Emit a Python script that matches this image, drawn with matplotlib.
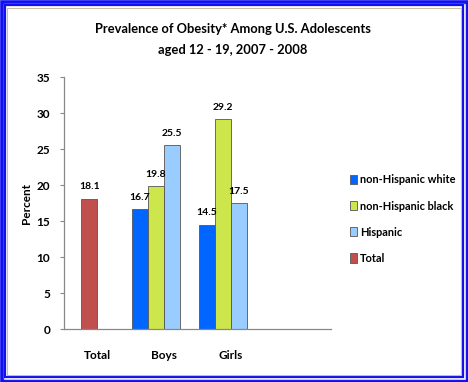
import numpy as np
import matplotlib.pyplot as plt
from matplotlib.patches import Rectangle

# Data
categories = ['Total', 'Boys', 'Girls']
white = [0, 16.7, 14.5]
black = [0, 19.8, 29.2]
hispanic = [0, 25.5, 17.5]
total = [18.1, 0, 0]
series_names = ['non-Hispanic white', 'non-Hispanic black', 'Hispanic', 'Total']
colors = ['#0066FF', '#CCE64C', '#99CCFF', '#C0504D']

plt.rcParams['font.family'] = ['Lato', 'DejaVu Sans']

W, H = 468, 382
fig = plt.figure(figsize=(W / 100, H / 100), dpi=100)

# Blue frame around the figure
def frame(x0, y0, x1, y1, color, lw):
    fig.patches.append(Rectangle((x0 / W, 1 - y1 / H), (x1 - x0) / W, (y1 - y0) / H,
                                 transform=fig.transFigure, fill=False,
                                 edgecolor=color, linewidth=lw, zorder=10))

frame(1.5, 1.5, W - 1.5, H - 1.5, '#1010F0', 2.6)
frame(3.5, 3.5, W - 3.5, H - 3.5, '#C8C8FF', 0.8)
frame(5, 5, W - 5, H - 5, '#1010F0', 1.6)
frame(7.5, 7.5, W - 7.5, H - 7.5, '#C8C0A0', 0.8)

# Axes placement in pixels: x 64..331, y 77..329
ax = fig.add_axes([64 / W, 1 - 329 / H, (331 - 64) / W, (329 - 77) / H])

bw = 0.24
data = [white, black, hispanic]
offsets = [-0.36, -0.12, 0.12]
for vals, off, c, name in zip(data, offsets, colors[:3], series_names[:3]):
    xs = [i + off for i in range(1, 3)]
    vs = vals[1:]
    ax.bar(xs, vs, width=bw, color=c, edgecolor='#555555', linewidth=0.6, label=name)
    for xi, v in zip(xs, vs):
        ax.text(xi, v + 1.0, f'{v:.1f}', ha='center', va='bottom', fontsize=7.5, fontweight='bold')
ax.bar([-0.12], total[:1], width=bw, color=colors[3], edgecolor='#555555', linewidth=0.6,
       label=series_names[3])
ax.text(-0.12, total[0] + 1.0, f'{total[0]:.1f}', ha='center', va='bottom', fontsize=7.5,
        fontweight='bold')

ax.set_xlim(-0.5, 3.5)
ax.set_ylim(0, 35)
ax.set_yticks(range(0, 36, 5))
ax.set_xticks(range(3))
ax.set_xticklabels(categories, fontsize=8.5, fontweight='bold')
ax.tick_params(axis='x', length=0, pad=15)
ax.tick_params(axis='y', direction='out', length=3, width=0.8, color='#888888',
               labelsize=8.5, pad=7)
for lab in ax.get_yticklabels():
    lab.set_fontweight('bold')
for s in ['top', 'right']:
    ax.spines[s].set_visible(False)
for s in ['left', 'bottom']:
    ax.spines[s].set_color('#888888')
    ax.spines[s].set_linewidth(0.9)
ax.set_ylabel('Percent', fontsize=8.5, fontweight='bold')
ax.yaxis.set_label_coords(-32 / 267, 0.5)

fig.text(233 / W, 1 - 29 / H, 'Prevalence of Obesity* Among U.S. Adolescents',
         ha='center', va='center', fontsize=9.3, fontweight='bold')
fig.text(233 / W, 1 - 50 / H, 'aged 12 - 19, 2007 - 2008',
         ha='center', va='center', fontsize=9.3, fontweight='bold')

fig.legend(loc='upper left', bbox_to_anchor=(346 / W, 1 - 170 / H), frameon=False,
           handlelength=0.6, handleheight=0.9, handletextpad=0.3,
           labelspacing=1.38, borderaxespad=0, prop={'weight': 'bold', 'size': 7.9})

fig.savefig('out.png', dpi=100)
